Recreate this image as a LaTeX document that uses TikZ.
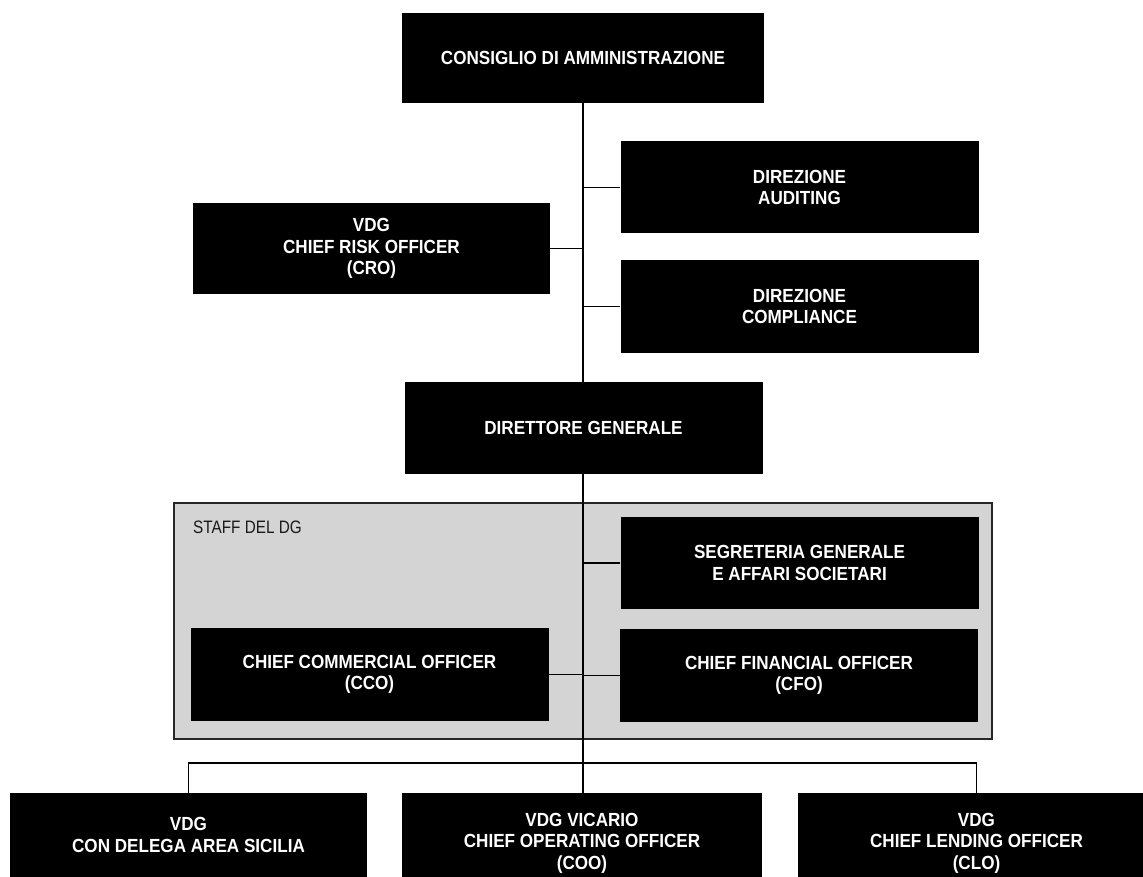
\documentclass[tikz,border=0pt]{standalone}
\usepackage{fontspec}
\newfontfamily\boxfont{Liberation Sans}[FakeStretch=0.9]
\newfontfamily\stafffont{Liberation Sans}[FakeStretch=0.85]
\begin{document}
\begin{tikzpicture}[x=1pt,y=-1pt,
  unit/.style={fill=black, text=white, minimum width=358pt, minimum height=92pt,
    inner sep=0pt, align=center, font=\boxfont\bfseries\fontsize{19}{21.5}\selectfont},
  staffbox/.style={fill=black!17, draw=black!85, line width=1.6pt,
    minimum width=818pt, minimum height=236pt, inner sep=0pt},
  stafflabel/.style={text=black!90, inner sep=0pt, font=\stafffont\fontsize{18}{20}\selectfont},
  link/.style={line width=1.5pt, black}]
\clip (0,0) rectangle (1143,877);
\fill[white] (0,0) rectangle (1143,877);

\node[unit, minimum width=362pt, minimum height=90pt] (cda) at (583,58) {CONSIGLIO DI AMMINISTRAZIONE};
\node[unit] (aud) at (799.5,187.5) {DIREZIONE\\AUDITING};
\node[unit] (comp) at (799.5,306.5) {DIREZIONE\\COMPLIANCE};
\node[unit, minimum width=357pt, minimum height=91pt] (cro) at (371.5,248.5) {VDG\\CHIEF RISK OFFICER\\(CRO)};
\node[unit] (dg) at (583.5,428) {DIRETTORE GENERALE};

\node[staffbox] (staff) at (583,621) {};
\node[stafflabel, anchor=base west] (stafflbl) at (193,533) {STAFF DEL DG};
\node[unit] (segr) at (799.5,563) {SEGRETERIA GENERALE\\E AFFARI SOCIETARI};
\node[unit, minimum height=93pt] (cfo) at (799,675.5) {CHIEF FINANCIAL OFFICER\\(CFO)};
\node[unit, minimum height=93pt] (cco) at (369.5,674.5) {CHIEF COMMERCIAL OFFICER\\(CCO)};

\node[unit, minimum width=357pt, minimum height=84pt] (sic) at (188.5,835) {VDG\\CON DELEGA AREA SICILIA};
\node[unit, minimum width=360pt, minimum height=100pt] (vic) at (582,843) {VDG VICARIO\\CHIEF OPERATING OFFICER\\(COO)};
\node[unit, minimum width=357pt, minimum height=100pt] (clo) at (976.5,843) {VDG\\CHIEF LENDING OFFICER\\(CLO)};

\coordinate (b) at (583,763);

\draw[link] (cda.south) -- (cda.south |- dg.north);
\draw[link] (aud.west) -- (aud.west -| cda.south);
\draw[link] (comp.west) -- (comp.west -| cda.south);
\draw[link] (cro.east) -- (cro.east -| cda.south);
\draw[link] (dg.south -| cda.south) -- (b);
\draw[link] (segr.west) -- (segr.west -| cda.south);
\draw[link] (cfo.west) -- (cfo.west -| cda.south);
\draw[link] (cco.east) -- (cco.east -| cda.south);
\draw[link] (sic.north) |- (clo.north |- b) -- (clo.north);
\draw[link] (vic.north -| b) -- (b);
\end{tikzpicture}
\end{document}
